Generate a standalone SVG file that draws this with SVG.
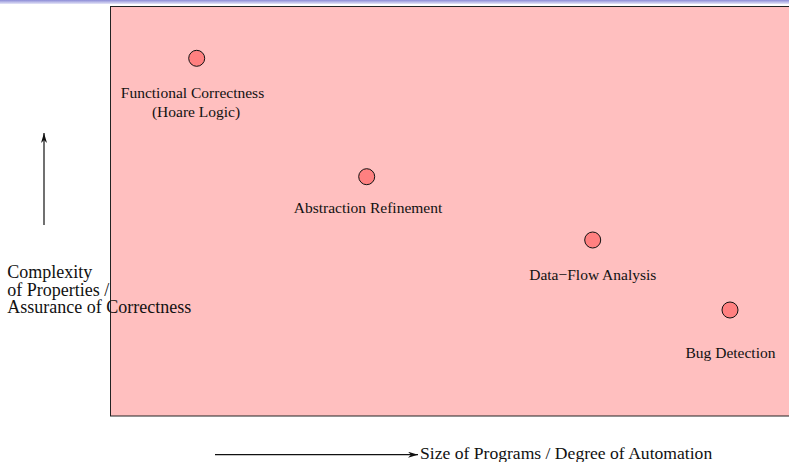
<svg xmlns="http://www.w3.org/2000/svg" width="789" height="462" viewBox="0 0 789 462">
  <defs>
    <linearGradient id="topBar" x1="0" y1="0" x2="0" y2="1">
      <stop offset="0" stop-color="#8c8cd6"/>
      <stop offset="1" stop-color="#e6e6f8"/>
    </linearGradient>
    <marker id="head" viewBox="0 0 10 6" refX="10" refY="3" markerWidth="10" markerHeight="6" markerUnits="userSpaceOnUse" orient="auto">
      <path d="M0,0 L10,3 L0,6 L3,3 Z" fill="#111"/>
    </marker>
    <style>
      .lbl { font-family: "Liberation Serif", "Times New Roman", serif; fill: #111; }
      .node-label { font-size: 15.5px; text-anchor: middle; }
      .axis-label { font-size: 18px; }
      .dot { fill: #ff8080; stroke: #111; stroke-width: 1; }
      .axis { stroke: #111; stroke-width: 1.2; fill: none; marker-end: url(#head); }
    </style>
  </defs>

  <rect x="0" y="0" width="789" height="462" fill="#ffffff"/>
  <rect x="0" y="0" width="789" height="4" fill="url(#topBar)"/>

  <!-- plot area -->
  <rect id="plot" x="110.5" y="6.5" width="690" height="409.5" fill="#ffbfbf" stroke="#222" stroke-width="1"/>

  <!-- axis arrows -->
  <g id="connectors">
    <line class="axis" x1="44" y1="225" x2="44" y2="133"/>
    <line class="axis" x1="215" y1="454.7" x2="418" y2="454.7"/>
  </g>

  <g id="node-functional">
    <circle class="dot" cx="196.7" cy="58.3" r="8"/>
    <text class="lbl node-label" x="192.5" y="98.3">Functional Correctness</text>
    <text class="lbl node-label" x="196" y="117.3">(Hoare Logic)</text>
  </g>

  <g id="node-abstraction">
    <circle class="dot" cx="366.7" cy="176.7" r="8"/>
    <text class="lbl node-label" x="368" y="213.3">Abstraction Refinement</text>
  </g>

  <g id="node-dataflow">
    <circle class="dot" cx="592.7" cy="240" r="8"/>
    <text class="lbl node-label" x="592.8" y="280">Data−Flow Analysis</text>
  </g>

  <g id="node-bug">
    <circle class="dot" cx="730" cy="310" r="8"/>
    <text class="lbl node-label" x="730.5" y="358.3">Bug Detection</text>
  </g>

  <!-- axis captions -->
  <g id="y-caption">
    <text class="lbl axis-label" x="7.3" y="277.7">Complexity</text>
    <text class="lbl axis-label" x="7.3" y="295.7">of Properties /</text>
    <text class="lbl axis-label" x="7.3" y="313.3">Assurance of Correctness</text>
  </g>
  <g id="x-caption">
    <text class="lbl" style="font-size:17.6px" x="420" y="459.3">Size of Programs / Degree of Automation</text>
  </g>
</svg>
